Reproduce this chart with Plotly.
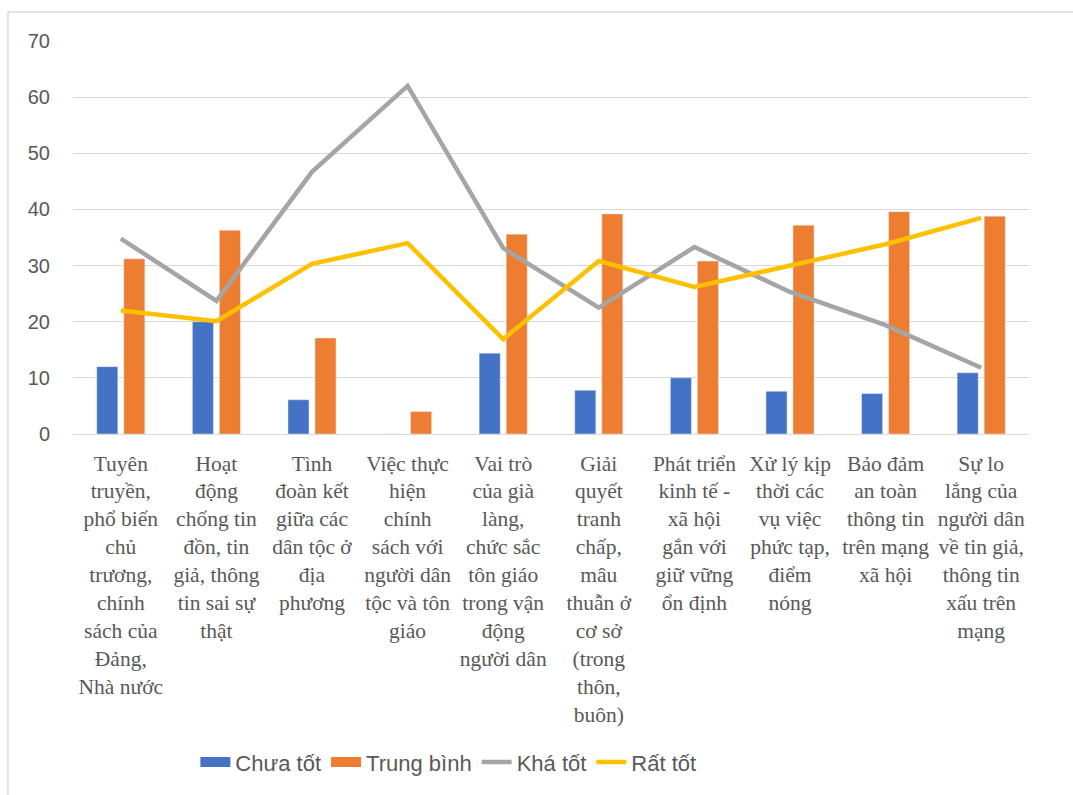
import plotly.graph_objects as go

categories = [
    "Tuyên<br>truyền,<br>phổ biến<br>chủ<br>trương,<br>chính<br>sách của<br>Đảng,<br>Nhà nước",
    "Hoạt<br>động<br>chống tin<br>đồn, tin<br>giả, thông<br>tin sai sự<br>thật",
    "Tình<br>đoàn kết<br>giữa các<br>dân tộc ở<br>địa<br>phương",
    "Việc thực<br>hiện<br>chính<br>sách với<br>người dân<br>tộc và tôn<br>giáo",
    "Vai trò<br>của già<br>làng,<br>chức sắc<br>tôn giáo<br>trong vận<br>động<br>người dân",
    "Giải<br>quyết<br>tranh<br>chấp,<br>mâu<br>thuẫn ở<br>cơ sở<br>(trong<br>thôn,<br>buôn)",
    "Phát triển<br>kinh tế -<br>xã hội<br>gắn với<br>giữ vững<br>ổn định",
    "Xử lý kịp<br>thời các<br>vụ việc<br>phức tạp,<br>điểm<br>nóng",
    "Bảo đảm<br>an toàn<br>thông tin<br>trên mạng<br>xã hội",
    "Sự lo<br>lắng của<br>người dân<br>về tin giả,<br>thông tin<br>xấu trên<br>mạng",
]

chua_tot = [12.0, 20.0, 6.1, 0.0, 14.4, 7.8, 10.0, 7.6, 7.2, 10.9]
trung_binh = [31.2, 36.3, 17.1, 4.0, 35.6, 39.2, 30.8, 37.2, 39.6, 38.8]
kha_tot = [34.8, 23.7, 46.7, 62.0, 33.1, 22.5, 33.3, 25.3, 19.4, 11.8]
rat_tot = [22.0, 20.1, 30.3, 34.0, 16.9, 30.8, 26.2, 29.9, 33.8, 38.5]

series_names = ["Chưa tốt", "Trung bình", "Khá tốt", "Rất tốt"]
y_ticks = [0, 10, 20, 30, 40, 50, 60, 70]

BLUE = "#4472C4"
ORANGE = "#ED7D31"
GRAY = "#A5A5A5"
YELLOW = "#FFC000"
TXT = "#595959"

x_idx = list(range(len(categories)))

fig = go.Figure()
fig.add_trace(go.Bar(x=x_idx, y=chua_tot, name=series_names[0], marker_color=BLUE,
                     showlegend=False))
fig.add_trace(go.Bar(x=x_idx, y=trung_binh, name=series_names[1], marker_color=ORANGE,
                     showlegend=False))
fig.add_trace(go.Scatter(x=x_idx, y=kha_tot, name=series_names[2], mode="lines",
                         line=dict(color=GRAY, width=4.5), showlegend=False))
fig.add_trace(go.Scatter(x=x_idx, y=rat_tot, name=series_names[3], mode="lines",
                         line=dict(color=YELLOW, width=4.5), showlegend=False))

# legend entries
for nm, col, w in [(series_names[0], BLUE, 14), (series_names[1], ORANGE, 14),
                   (series_names[2], GRAY, 4.5), (series_names[3], YELLOW, 4.5)]:
    fig.add_trace(go.Scatter(x=[None], y=[None], name=nm, mode="lines",
                             line=dict(color=col, width=w), showlegend=True))

fig.update_layout(
    width=1073, height=795,
    margin=dict(l=73, r=44, t=41, b=361),
    paper_bgcolor="white", plot_bgcolor="white",
    barmode="group", bargap=0.435, bargroupgap=0.22,
    legend=dict(orientation="h", x=0.128, xanchor="left", y=-0.835, yanchor="middle",
                font=dict(family="Liberation Sans Narrow, Liberation Sans", size=22, color=TXT),
                itemwidth=30, traceorder="normal", tracegroupgap=0),
    shapes=[dict(type="rect", xref="paper", yref="paper", x0=-0.068, x1=1.2,
                 y0=-2.0, y1=1.0738, line=dict(color="#D9D9D9", width=1.5),
                 fillcolor="rgba(0,0,0,0)", layer="below")],
)
fig.update_xaxes(
    tickmode="array", tickvals=x_idx, ticktext=categories, tickangle=0,
    range=[-0.5, len(categories) - 0.5],
    tickfont=dict(family="Liberation Serif", size=21.5, color=TXT),
    showgrid=False, showline=False, zeroline=False, ticks="",
    ticklabelstandoff=14,
)
fig.update_yaxes(
    range=[0, 70], tickmode="array", tickvals=y_ticks,
    tickfont=dict(family="Liberation Sans", size=20, color=TXT),
    showgrid=True, gridcolor="#D9D9D9", gridwidth=1.3,
    zeroline=True, zerolinecolor="#D9D9D9", zerolinewidth=1.3,
    showline=False, ticks="", ticklabelstandoff=22,
)

fig.write_html("out.html")
